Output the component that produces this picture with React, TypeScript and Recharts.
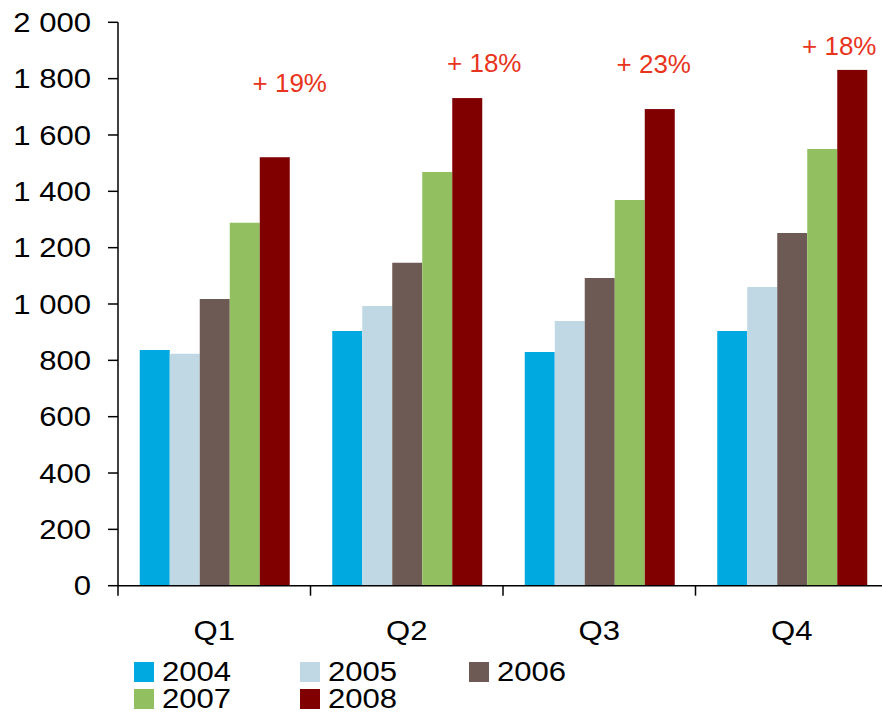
import React from 'react';
import { BarChart, Bar, XAxis, YAxis, Legend } from 'recharts';

const quarters = ['Q1', 'Q2', 'Q3', 'Q4'];
const s2004 = [837, 904, 830, 904];
const s2005 = [823, 993, 940, 1060];
const s2006 = [1018, 1146, 1092, 1252];
const s2007 = [1288, 1469, 1369, 1550];
const s2008 = [1521, 1731, 1692, 1831];
const growthLabels = ['+ 19%', '+ 18%', '+ 23%', '+ 18%'];
// baseline of each growth annotation, in value units
const growthLevel = [1753, 1824, 1820, 1884];
const yTicks = [0, 200, 400, 600, 800, 1000, 1200, 1400, 1600, 1800, 2000];

const years = ['2004', '2005', '2006', '2007', '2008'];
const keys = ['y2004', 'y2005', 'y2006', 'y2007', 'y2008'];
const colors = ['#00A9E0', '#C0D8E4', '#6E5A55', '#92C060', '#800000'];
const labelNudge = [15, 17, -6, -13];

const FONT = '"Liberation Sans", Arial, sans-serif';
const RED = '#E8341C';
const FS = 27;
const SX = 1.15;

const data = quarters.map((q, i) => ({
  q,
  y2004: s2004[i],
  y2005: s2005[i],
  y2006: s2006[i],
  y2007: s2007[i],
  y2008: s2008[i],
  growth: growthLabels[i],
  level: growthLevel[i],
}));

const fmt = (v: number) => {
  const s = String(v);
  if (s.length <= 3) return s;
  return s.slice(0, s.length - 3) + ' ' + s.slice(s.length - 3);
};

const XTick = (props: any) => {
  const { x, y, payload, width, visibleTicksCount } = props;
  const w = typeof width === 'number' ? width : 770;
  const n = visibleTicksCount || 4;
  const band = w / n;
  const left = x - band / 2;
  return (
    <g>
      <line x1={left} x2={left} y1={y} y2={y + 10} stroke="#000" strokeWidth={1.5} />
      <text
        transform={`translate(${x},${y + 54}) scale(${SX},1)`}
        textAnchor="middle"
        fontSize={FS}
        fontFamily={FONT}
        fill="#000"
      >
        {payload.value}
      </text>
    </g>
  );
};

const YTick = (props: any) => {
  const { x, y, payload } = props;
  return (
    <text
      transform={`translate(${x},${y + 9.6}) scale(${SX},1)`}
      textAnchor="end"
      fontSize={FS}
      fontFamily={FONT}
      fill="#000"
    >
      {fmt(payload.value)}
    </text>
  );
};

const BarWithLabel = (props: any) => {
  const { x, y, width, height, fill, payload, index } = props;
  const base = y + height;
  const scale = payload.y2008 ? height / payload.y2008 : 0;
  const ly = base - payload.level * scale;
  return (
    <g>
      <rect x={x} y={y} width={width} height={height} fill={fill} />
      <text
        x={x + width / 2 + (labelNudge[index] || 0)}
        y={ly}
        textAnchor="middle"
        fontSize={26}
        fontFamily={FONT}
        fill={RED}
      >
        {payload.growth}
      </text>
    </g>
  );
};

const LegendBox = () => (
  <div
    style={{
      display: 'grid',
      gridTemplateColumns: '166px 169px 166px',
      fontFamily: FONT,
      fontSize: FS,
      lineHeight: '24px',
      color: '#000',
    }}
  >
    {years.map((yr, i) => (
      <div key={yr} style={{ display: 'flex', alignItems: 'center', height: 27 }}>
        <span
          style={{ display: 'inline-block', width: 20, height: 20, background: colors[i], marginRight: 8, flex: 'none' }}
        />
        <span style={{ display: 'inline-block', transform: `scaleX(${SX})`, transformOrigin: 'left center' }}>{yr}</span>
      </div>
    ))}
  </div>
);

export default function App() {
  return (
    <div
      style={{
        position: 'absolute',
        left: 0,
        top: 0,
        width: 882,
        height: 714,
        overflow: 'hidden',
        background: '#fff',
      }}
    >
      <BarChart
        width={900}
        height={714}
        data={data}
        margin={{ top: 22.3, right: 12, bottom: 98.3, left: 0 }}
        barCategoryGap="11.3%"
        barGap={0}
      >
        <XAxis
          dataKey="q"
          height={30}
          axisLine={{ stroke: '#000', strokeWidth: 1.5 }}
          tickLine={false}
          tickSize={0}
          tickMargin={0}
          tick={<XTick />}
          interval={0}
        />
        <YAxis
          width={118}
          domain={[0, 2000]}
          ticks={yTicks}
          interval={0}
          axisLine={{ stroke: '#000', strokeWidth: 1.5 }}
          tickLine={{ stroke: '#000', strokeWidth: 1.5 }}
          tickSize={10}
          tickMargin={17}
          tick={<YTick />}
        />
        <Legend
          layout="horizontal"
          verticalAlign="middle"
          align="center"
          wrapperStyle={{ position: 'absolute', top: 658.5, left: 134, width: 520, height: 54 }}
          content={() => <LegendBox />}
        />
        {keys.map((k, i) =>
          k === 'y2008' ? (
            <Bar key={k} dataKey={k} name={years[i]} fill={colors[i]} isAnimationActive={false} shape={<BarWithLabel />} />
          ) : (
            <Bar key={k} dataKey={k} name={years[i]} fill={colors[i]} isAnimationActive={false} />
          )
        )}
      </BarChart>
    </div>
  );
}
